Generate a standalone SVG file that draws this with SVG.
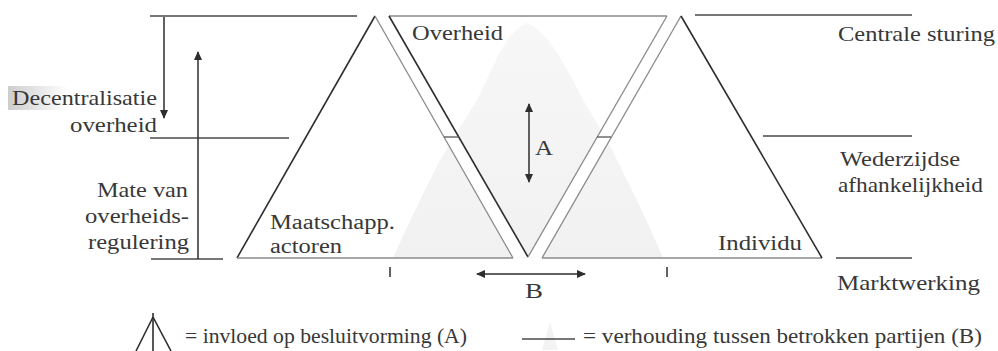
<svg xmlns="http://www.w3.org/2000/svg" width="998" height="351" viewBox="0 0 998 351">
<style>
  text { font-family: "Liberation Serif", "Times New Roman", serif; font-size: 22px; fill: #383838; }
  .small { font-size: 20px; }
  .dark { stroke: #2e2e2e; stroke-width: 1.6; fill: none; }
  .gray { stroke: #8a8a8a; stroke-width: 1.3; fill: none; }
  .hline { stroke: #4a4a4a; stroke-width: 1.5; fill: none; }
  .arrow { stroke: #2e2e2e; stroke-width: 1.5; fill: none; }
</style>
<defs>
  <marker id="ah" markerUnits="userSpaceOnUse" markerWidth="10" markerHeight="10" refX="8" refY="4" orient="auto-start-reverse" viewBox="0 0 10 8">
    <path d="M0,0 L9,4 L0,8 Z" fill="#2e2e2e"/>
  </marker>
  <linearGradient id="hl" x1="0" x2="1" y1="0" y2="0">
    <stop offset="0" stop-color="#c8c8c8" stop-opacity="0.9"/>
    <stop offset="1" stop-color="#c8c8c8" stop-opacity="0"/>
  </linearGradient>
  <linearGradient id="sh" x1="0" x2="0" y1="0" y2="1">
    <stop offset="0" stop-color="#f7f7f7"/>
    <stop offset="1" stop-color="#f1f1f1"/>
  </linearGradient>
</defs>
<rect width="998" height="351" fill="#ffffff"/>

<g id="shading">
  <path d="M393,258 C410,220 425,190 440,160 C455,135 465,120 477,100 C495,65 505,32 527,23 C549,32 565,65 583,100 C595,120 605,135 617,160 C632,190 648,222 663,258 Z" fill="url(#sh)"/>
  <path d="M542,350 L550,322 L558,350 Z" fill="#f3f3f3"/>
  <rect x="8" y="86" width="60" height="24" fill="url(#hl)"/>
</g>

<g id="strips">
  <polygon points="375,16 389,16 528,257 513,258" fill="#ffffff"/>
  <polygon points="667,16 681,16 542,258 528,257" fill="#ffffff"/>
</g>

<g id="triangle-left">
  <line class="dark" x1="375" y1="16" x2="237" y2="258"/>
  <line class="gray" x1="237" y1="258" x2="513" y2="258"/>
  <line class="gray" x1="375" y1="16" x2="513" y2="258"/>
  <text class="small" x="270" y="229" textLength="125" lengthAdjust="spacingAndGlyphs">Maatschapp.</text>
  <text class="small" x="270" y="253" textLength="72" lengthAdjust="spacingAndGlyphs">actoren</text>
</g>

<g id="triangle-center">
  <line class="gray" x1="389" y1="16" x2="667" y2="16"/>
  <line class="dark" x1="389" y1="16" x2="528" y2="257"/>
  <line class="gray" x1="667" y1="16" x2="528" y2="257"/>
  <text x="412" y="40" textLength="91" lengthAdjust="spacingAndGlyphs">Overheid</text>
</g>

<g id="triangle-right">
  <line class="gray" x1="681" y1="16" x2="542" y2="258"/>
  <line class="gray" x1="542" y1="258" x2="822" y2="258"/>
  <line class="dark" x1="681" y1="16" x2="822" y2="258"/>
  <text x="718" y="250" textLength="84" lengthAdjust="spacingAndGlyphs">Individu</text>
</g>

<g id="left-scale">
  <line class="hline" x1="150" y1="16" x2="357" y2="16"/>
  <line class="hline" x1="150" y1="138" x2="289" y2="138"/>
  <line class="hline" x1="151" y1="259" x2="223" y2="259"/>
  <text x="12" y="105" textLength="145" lengthAdjust="spacingAndGlyphs">Decentralisatie</text>
  <text x="70" y="132" textLength="87" lengthAdjust="spacingAndGlyphs">overheid</text>
  <text x="97" y="197" textLength="91" lengthAdjust="spacingAndGlyphs">Mate van</text>
  <text x="85" y="223" textLength="104" lengthAdjust="spacingAndGlyphs">overheids-</text>
  <text x="88" y="249" textLength="101" lengthAdjust="spacingAndGlyphs">regulering</text>
</g>

<g id="right-scale">
  <line class="hline" x1="695" y1="15" x2="912" y2="15"/>
  <line class="hline" x1="763" y1="136" x2="912" y2="136"/>
  <line class="hline" x1="836" y1="258" x2="912" y2="258"/>
  <text x="838" y="41" textLength="157" lengthAdjust="spacingAndGlyphs">Centrale sturing</text>
  <text x="840" y="166" textLength="120" lengthAdjust="spacingAndGlyphs">Wederzijdse</text>
  <text x="838" y="192" textLength="145" lengthAdjust="spacingAndGlyphs">afhankelijkheid</text>
  <text x="837" y="290" textLength="143" lengthAdjust="spacingAndGlyphs">Marktwerking</text>
</g>

<g id="labels">
  <text x="535" y="155" textLength="18" lengthAdjust="spacingAndGlyphs">A</text>
  <text x="525" y="298" textLength="18" lengthAdjust="spacingAndGlyphs">B</text>
</g>

<g id="connectors">
  <line x1="444" y1="137" x2="459" y2="137" stroke="#555" stroke-width="1.3"/>
  <line x1="597" y1="137" x2="611" y2="137" stroke="#555" stroke-width="1.3"/>
  <line class="arrow" x1="164" y1="17" x2="164" y2="118" marker-end="url(#ah)"/>
  <line class="arrow" x1="198" y1="259" x2="198" y2="52" marker-end="url(#ah)"/>
  <line class="arrow" x1="529" y1="104" x2="529" y2="182" marker-start="url(#ah)" marker-end="url(#ah)"/>
  <line class="arrow" x1="477" y1="274" x2="585" y2="274" marker-start="url(#ah)" marker-end="url(#ah)"/>
  <line class="arrow" x1="390" y1="267" x2="390" y2="277"/>
  <line class="arrow" x1="667" y1="267" x2="667" y2="277"/>
</g>

<g id="legend">
  <line class="dark" x1="153" y1="317" x2="136" y2="351"/>
  <line class="dark" x1="153" y1="317" x2="171" y2="351"/>
  <line class="dark" x1="153" y1="313" x2="153" y2="351"/>
  <text x="185" y="343" textLength="282" lengthAdjust="spacingAndGlyphs">= invloed op besluitvorming (A)</text>
  <line class="hline" x1="522" y1="339" x2="575" y2="339"/>
  <text x="583" y="343" textLength="399" lengthAdjust="spacingAndGlyphs">= verhouding tussen betrokken partijen (B)</text>
</g>
</svg>
